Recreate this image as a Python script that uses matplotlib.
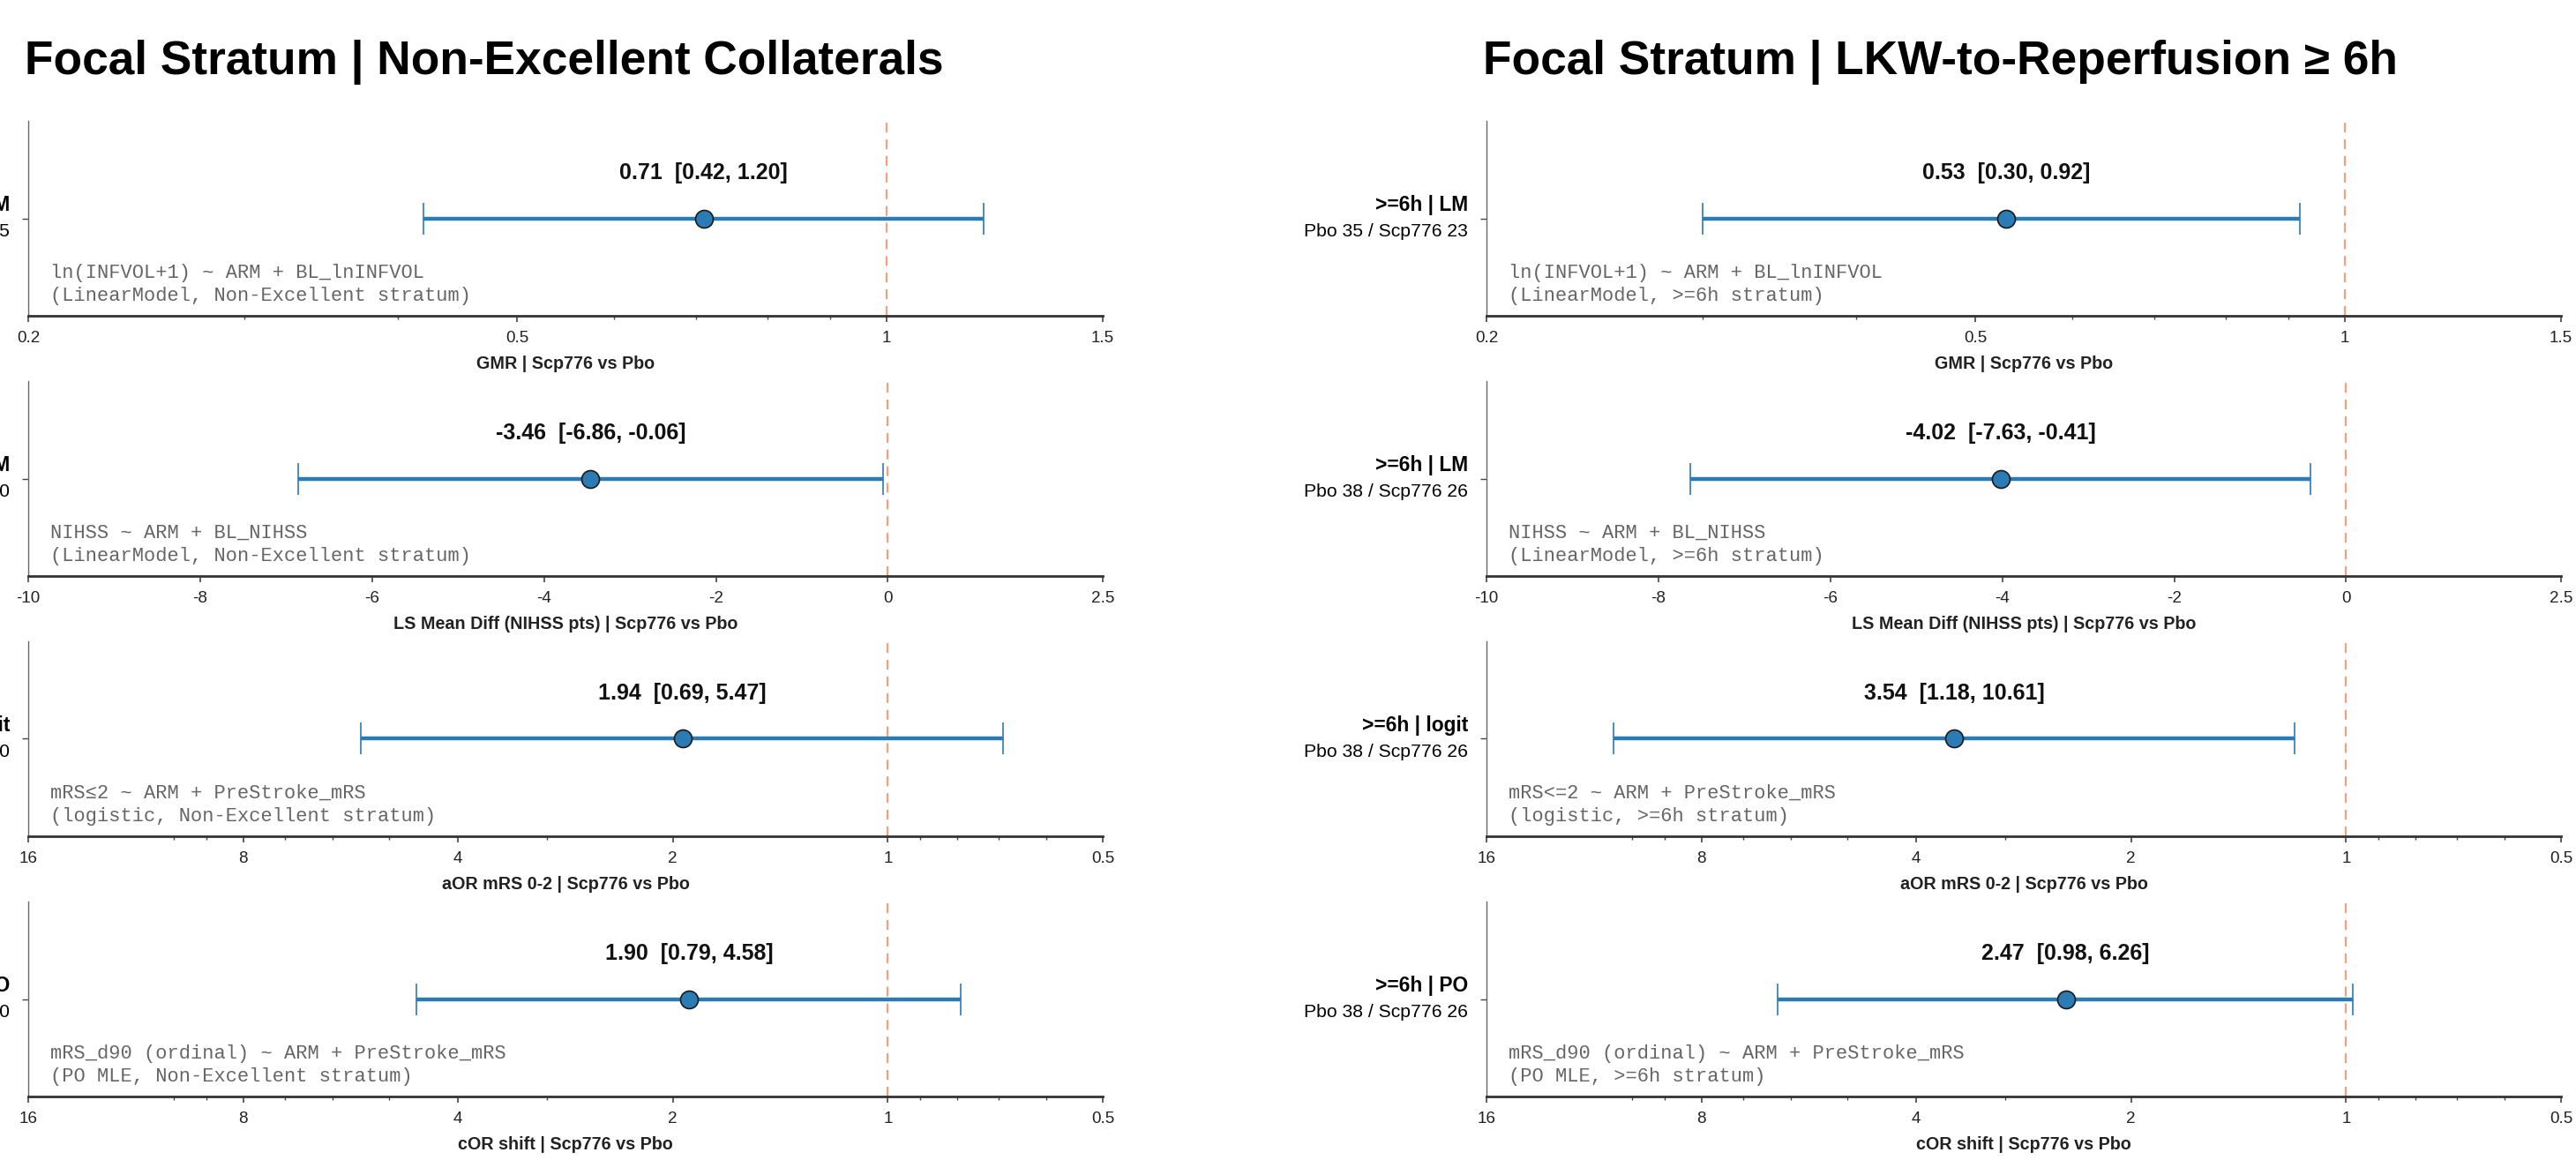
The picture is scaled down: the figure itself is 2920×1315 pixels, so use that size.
import matplotlib
matplotlib.use("Agg")
import matplotlib.pyplot as plt
from matplotlib.ticker import FixedLocator, FixedFormatter, NullFormatter

# ---------------- data ----------------
panel_titles = ["Focal Stratum | Non-Excellent Collaterals",
                "Focal Stratum | LKW-to-Reperfusion \u2265 6h"]

metric_xlabels = ["GMR | Scp776 vs Pbo",
                  "LS Mean Diff (NIHSS pts) | Scp776 vs Pbo",
                  "aOR mRS 0-2 | Scp776 vs Pbo",
                  "cOR shift | Scp776 vs Pbo"]

# left panel (Non-Excellent collaterals)
left_est = [0.71, -3.46, 1.94, 1.90]
left_lo = [0.42, -6.86, 0.69, 0.79]
left_hi = [1.20, -0.06, 5.47, 4.58]
left_row_labels = ["Non-Excellent | LM", "Non-Excellent | LM",
                   "Non-Excellent | logit", "Non-Excellent | PO"]
left_row_counts = ["Pbo 41 / Scp776 35", "Pbo 44 / Scp776 40",
                   "Pbo 44 / Scp776 40", "Pbo 44 / Scp776 40"]
left_formulas = ["ln(INFVOL+1) ~ ARM + BL_lnINFVOL\n(LinearModel, Non-Excellent stratum)",
                 "NIHSS ~ ARM + BL_NIHSS\n(LinearModel, Non-Excellent stratum)",
                 "mRS\u22642 ~ ARM + PreStroke_mRS\n(logistic, Non-Excellent stratum)",
                 "mRS_d90 (ordinal) ~ ARM + PreStroke_mRS\n(PO MLE, Non-Excellent stratum)"]

# right panel (>=6h)
right_est = [0.53, -4.02, 3.54, 2.47]
right_lo = [0.30, -7.63, 1.18, 0.98]
right_hi = [0.92, -0.41, 10.61, 6.26]
right_row_labels = [">=6h | LM", ">=6h | LM", ">=6h | logit", ">=6h | PO"]
right_row_counts = ["Pbo 35 / Scp776 23", "Pbo 38 / Scp776 26",
                    "Pbo 38 / Scp776 26", "Pbo 38 / Scp776 26"]
right_formulas = ["ln(INFVOL+1) ~ ARM + BL_lnINFVOL\n(LinearModel, >=6h stratum)",
                  "NIHSS ~ ARM + BL_NIHSS\n(LinearModel, >=6h stratum)",
                  "mRS<=2 ~ ARM + PreStroke_mRS\n(logistic, >=6h stratum)",
                  "mRS_d90 (ordinal) ~ ARM + PreStroke_mRS\n(PO MLE, >=6h stratum)"]

# axis configuration per metric
scales = ["log", "linear", "log", "log"]
xlims = [(0.2, 1.5), (-10, 2.5), (16, 0.5), (16, 0.5)]
null_values = [1, 0, 1, 1]
major_ticks = [[0.2, 0.5, 1, 1.5],
               [-10, -8, -6, -4, -2, 0, 2.5],
               [16, 8, 4, 2, 1, 0.5],
               [16, 8, 4, 2, 1, 0.5]]
major_labels = [["0.2", "0.5", "1", "1.5"],
                ["-10", "-8", "-6", "-4", "-2", "0", "2.5"],
                ["16", "8", "4", "2", "1", "0.5"],
                ["16", "8", "4", "2", "1", "0.5"]]
minor_ticks = [[0.3, 0.4, 0.6, 0.7, 0.8, 0.9],
               [],
               [10, 9, 7, 6, 5, 3, 0.9, 0.8, 0.7, 0.6],
               [10, 9, 7, 6, 5, 3, 0.9, 0.8, 0.7, 0.6]]

# ---------------- style ----------------
SANS = ["Liberation Sans", "DejaVu Sans"]
MONO = ["Liberation Mono", "DejaVu Sans Mono"]
plt.rcParams["font.family"] = SANS

BLUE = "#2b7bb4"
SALMON = "#f2a07e"

W, H = 2920, 1315
DPI = 200
fig = plt.figure(figsize=(W / DPI, H / DPI), dpi=DPI)

col_left_px = [32, 1685]
ax_w_px = 1218
ax_h_px = 221
row_top_px = [137, 432, 727, 1022]

panels = [
    (left_est, left_lo, left_hi, left_row_labels, left_row_counts, left_formulas),
    (right_est, right_lo, right_hi, right_row_labels, right_row_counts, right_formulas),
]

for c, (est, lo, hi, rlab, rcnt, forms) in enumerate(panels):
    x0 = col_left_px[c]
    fig.text((x0 - 4) / W, 1 - 70 / H, panel_titles[c], fontsize=19.2, fontweight="bold",
             ha="left", va="center", family=SANS, color="black")
    for r in range(4):
        top = row_top_px[r]
        ax = fig.add_axes([x0 / W, 1 - (top + ax_h_px) / H, ax_w_px / W, ax_h_px / H])
        ax.set_xscale(scales[r])
        ax.set_xlim(*xlims[r])
        ax.set_ylim(-1, 1)

        ax.axvline(null_values[r], color=SALMON, lw=0.8, ls=(0, (5, 3.5)), zorder=1)
        ax.errorbar([est[r]], [0],
                    xerr=[[est[r] - lo[r]], [hi[r] - est[r]]],
                    fmt="o", color=BLUE, ecolor=BLUE, elinewidth=1.6,
                    capsize=6.5, capthick=0.8, markersize=7.2,
                    markerfacecolor=BLUE, markeredgecolor="#1a1a1a",
                    markeredgewidth=0.6, zorder=3)

        ax.annotate(f"{est[r]:.2f}  [{lo[r]:.2f}, {hi[r]:.2f}]",
                    xy=(est[r], 0), xytext=(0, 18.7), textcoords="offset points",
                    ha="center", va="center", fontsize=9.0, fontweight="bold",
                    color="#111111")

        ax.text(0.0205, 0.16, forms[r], transform=ax.transAxes, ha="left",
                va="center", fontsize=7.95, family=MONO, color="#666666",
                linespacing=1.35)

        # y labels (two-line, mixed weight)
        ax.set_yticks([0])
        ax.set_yticklabels([""])
        ax.annotate(rlab[r], xy=(0, 0), xycoords=("axes fraction", "data"),
                    xytext=(-7.5, 5.4), textcoords="offset points",
                    ha="right", va="center", fontsize=8.2, fontweight="bold",
                    color="black", annotation_clip=False)
        ax.annotate(rcnt[r], xy=(0, 0), xycoords=("axes fraction", "data"),
                    xytext=(-7.5, -5.3), textcoords="offset points",
                    ha="right", va="center", fontsize=7.6, color="black",
                    annotation_clip=False)

        ax.xaxis.set_major_locator(FixedLocator(major_ticks[r]))
        ax.xaxis.set_major_formatter(FixedFormatter(major_labels[r]))
        ax.xaxis.set_minor_locator(FixedLocator(minor_ticks[r]))
        ax.xaxis.set_minor_formatter(NullFormatter())

        ax.tick_params(axis="x", which="major", length=2.6, width=0.6,
                       colors="#444444", labelcolor="#222222", labelsize=6.8, pad=3.5)
        ax.tick_params(axis="x", which="minor", length=1.5, width=0.5,
                       colors="#444444")
        ax.tick_params(axis="y", which="major", length=2.5, width=0.5,
                       colors="#444444")

        ax.set_xlabel(metric_xlabels[r], fontsize=7.1, fontweight="bold",
                      color="#222222", labelpad=4)

        for s in ("top", "right"):
            ax.spines[s].set_visible(False)
        ax.spines["bottom"].set_color("#333333")
        ax.spines["bottom"].set_linewidth(1.0)
        ax.spines["left"].set_color("#666666")
        ax.spines["left"].set_linewidth(0.5)
        ax.set_facecolor("white")

fig.savefig("out.png", dpi=DPI, facecolor="white")
